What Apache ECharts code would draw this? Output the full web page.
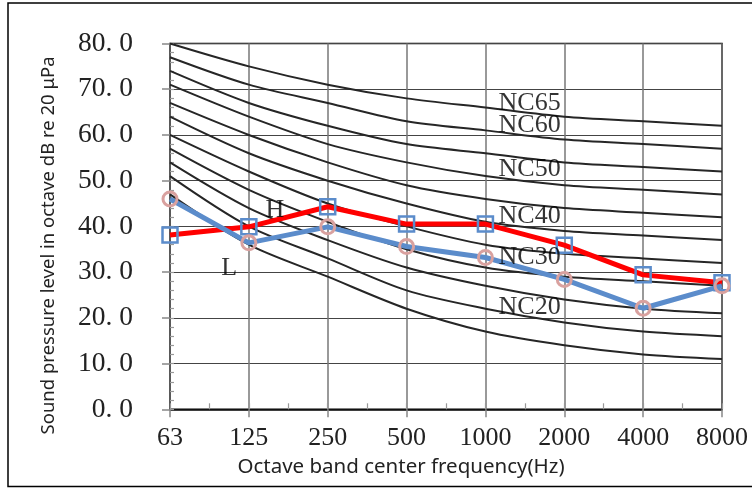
<!DOCTYPE html>
<html><head><meta charset="utf-8">
<script src="https://cdn.jsdelivr.net/npm/echarts@6/dist/echarts.min.js"></script>
<style>html,body{margin:0;padding:0;background:#fff}#c{width:752px;height:488px}</style>
</head><body><div id="c"></div>
<script>
// Octave band centre frequencies (x categories)
const freqs = ['63','125','250','500','1000','2000','4000','8000'];
// Y tick labels
const yTicks = [0,10,20,30,40,50,60,70,80];
// Measured series
const seriesH = [38.1, 39.9, 44.3, 40.5, 40.5, 35.9, 29.4, 27.7];
const seriesL = [46.0, 36.4, 39.9, 35.6, 33.2, 28.4, 22.1, 27.0];
// NC curves
const nc15 = [47, 36, 29, 22, 17, 14, 12, 11];
const nc20 = [51, 40, 33, 26, 22, 19, 17, 16];
const nc25 = [54, 44, 37, 31, 27, 24, 22, 21];
const nc30 = [57, 48, 41, 35, 31, 29, 28, 27];
const nc35 = [60, 52, 45, 40, 36, 34, 33, 32];
const nc40 = [64, 56, 50, 45, 41, 39, 38, 37];
const nc45 = [67, 60, 54, 49, 46, 44, 43, 42];
const nc50 = [71, 64, 58, 54, 51, 49, 48, 47];
const nc55 = [74, 67, 62, 58, 56, 54, 53, 52];
const nc60 = [77, 71, 67, 63, 61, 59, 58, 57];
const nc65 = [80, 75, 71, 68, 66, 64, 63, 62];
const ncCurves = [nc15, nc20, nc25, nc30, nc35, nc40, nc45, nc50, nc55, nc60, nc65];
// Curve labels: [x index, level, text]
const ncLabels = [[4.56, 67.0, 'NC65'], [4.56, 62.1, 'NC60'], [4.56, 52.5, 'NC50'], [4.56, 42.3, 'NC40'], [4.56, 33.3, 'NC30'], [4.56, 22.4, 'NC20']];
const hlLabels = [[1.33, 43.6, 'H'], [0.75, 30.8, 'L']];

const serif = 'Liberation Serif';
const chart = echarts.init(document.getElementById('c'), null, {renderer: 'canvas'});
const toPairs = arr => arr.map((v, i) => [i, v]);

const series = [];
ncCurves.forEach(c => series.push({
  type: 'line', data: toPairs(c), smooth: 0.3, symbol: 'none', silent: true,
  lineStyle: {color: '#262626', width: 2}, z: 2
}));
series.push({
  type: 'line', name: 'H', data: toPairs(seriesH), z: 4,
  lineStyle: {color: '#FF0000', width: 5},
  symbol: 'rect', symbolSize: 15,
  itemStyle: {color: 'rgba(255,255,255,0)', borderColor: '#5B8CCB', borderWidth: 2.5}
});
series.push({
  type: 'line', name: 'L', data: toPairs(seriesL), z: 5,
  lineStyle: {color: '#5B8CCB', width: 5},
  symbol: 'circle', symbolSize: 14,
  itemStyle: {color: 'rgba(255,255,255,0)', borderColor: '#D9A19F', borderWidth: 3}
});
series.push({
  type: 'scatter', data: ncLabels.concat(hlLabels), symbolSize: 1, z: 6, silent: true,
  itemStyle: {color: 'rgba(0,0,0,0)'},
  label: {show: true, position: 'inside', formatter: p => p.data[2],
    fontFamily: serif, fontSize: 26, color: '#000'}
});

chart.setOption({
  animation: false,
  backgroundColor: '#fff',
  grid: {left: 170, right: 30, top: 43.5, bottom: 78.7, show: true, borderColor: '#000', borderWidth: 1.5},
  xAxis: [{
    type: 'value', min: 0, max: freqs.length - 1, interval: 1, position: 'bottom',
    axisLine: {show: true, lineStyle: {color: '#000', width: 1.5}},
    axisTick: {show: true, length: 8, lineStyle: {color: '#888', width: 1.5}},
    axisLabel: {formatter: v => freqs[v] || '', fontFamily: serif, fontSize: 26, color: '#222', margin: 16},
    splitLine: {show: true, lineStyle: {color: '#777', width: 1.5}},
    name: 'Octave band center frequency(Hz)', nameLocation: 'middle', nameGap: 47,
    nameTextStyle: {fontFamily: 'Noto Sans', fontSize: 20.5, color: '#222', padding: [0, 90, 0, 0]}
  }, {
    type: 'value', min: 0, max: freqs.length - 1, interval: 0.5, position: 'bottom',
    axisLine: {show: false}, axisLabel: {show: false}, splitLine: {show: false},
    axisTick: {show: true, inside: true, length: 6, lineStyle: {color: '#999', width: 1.2}}
  }],
  yAxis: [{
    type: 'value', min: yTicks[0], max: yTicks[yTicks.length - 1], interval: 10, position: 'left',
    axisLine: {show: true, lineStyle: {color: '#555', width: 1.5}},
    axisTick: {show: true, length: 8, lineStyle: {color: '#888', width: 1.5}},
    axisLabel: {formatter: v => v.toFixed(1).replace('.', '. '), fontFamily: serif, fontSize: 27.5, color: '#222', margin: 37},
    splitLine: {show: true, lineStyle: {color: '#444', width: 1}},
    name: 'Sound pressure level in octave dB re 20 μPa', nameLocation: 'middle', nameGap: 112,
    nameTextStyle: {fontFamily: 'Noto Sans', fontSize: 18.5, color: '#222', padding: [0, 38, 0, 0]}
  }, {
    type: 'value', min: 0, max: 80, interval: 2, position: 'left',
    axisLine: {show: false}, axisLabel: {show: false}, splitLine: {show: false},
    axisTick: {show: true, inside: true, length: 4, lineStyle: {color: '#999', width: 1.2}}
  }],
  graphic: [{type: 'rect', shape: {x: 8, y: 3, width: 760, height: 483.5}, style: {fill: 'none', stroke: '#000', lineWidth: 1.5}, silent: true}],
  series: series
});
</script></body></html>
